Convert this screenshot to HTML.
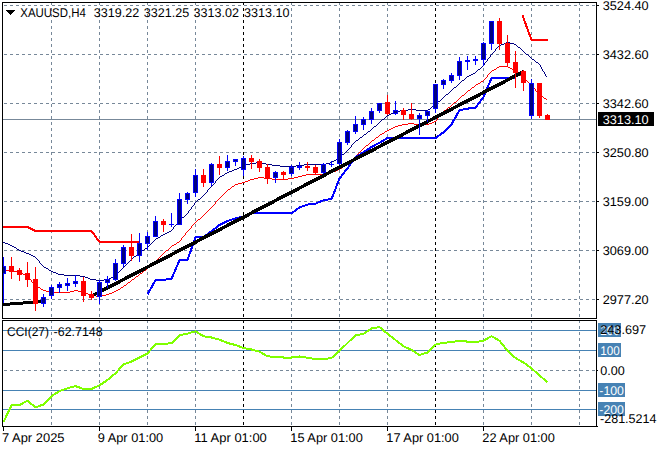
<!DOCTYPE html>
<html><head><meta charset="utf-8"><title>XAUUSD,H4</title>
<style>
html,body{margin:0;padding:0;background:#fff;width:660px;height:450px;overflow:hidden}
svg text{font-family:"Liberation Sans",sans-serif;}
</style></head><body>
<svg width="660" height="450" viewBox="0 0 660 450" shape-rendering="crispEdges" style="position:absolute;left:0;top:0">
<rect x="0" y="0" width="660" height="450" fill="#fff"/>
<line x1="4" y1="5.5" x2="596" y2="5.5" stroke="#778899" stroke-width="1" stroke-dasharray="3 3"/>
<line x1="4" y1="54.5" x2="596" y2="54.5" stroke="#778899" stroke-width="1" stroke-dasharray="3 3"/>
<line x1="4" y1="103.5" x2="596" y2="103.5" stroke="#778899" stroke-width="1" stroke-dasharray="3 3"/>
<line x1="4" y1="152.5" x2="596" y2="152.5" stroke="#778899" stroke-width="1" stroke-dasharray="3 3"/>
<line x1="4" y1="201.5" x2="596" y2="201.5" stroke="#778899" stroke-width="1" stroke-dasharray="3 3"/>
<line x1="4" y1="250.5" x2="596" y2="250.5" stroke="#778899" stroke-width="1" stroke-dasharray="3 3"/>
<line x1="4" y1="299.5" x2="596" y2="299.5" stroke="#778899" stroke-width="1" stroke-dasharray="3 3"/>
<line x1="4" y1="370.5" x2="596" y2="370.5" stroke="#778899" stroke-width="1" stroke-dasharray="3 3"/>
<line x1="51.5" y1="2" x2="51.5" y2="318" stroke="#778899" stroke-width="1" stroke-dasharray="3 3"/>
<line x1="51.5" y1="320" x2="51.5" y2="426" stroke="#778899" stroke-width="1" stroke-dasharray="3 3"/>
<line x1="99.5" y1="2" x2="99.5" y2="318" stroke="#778899" stroke-width="1" stroke-dasharray="3 3"/>
<line x1="99.5" y1="320" x2="99.5" y2="426" stroke="#778899" stroke-width="1" stroke-dasharray="3 3"/>
<line x1="147.5" y1="2" x2="147.5" y2="318" stroke="#778899" stroke-width="1" stroke-dasharray="3 3"/>
<line x1="147.5" y1="320" x2="147.5" y2="426" stroke="#778899" stroke-width="1" stroke-dasharray="3 3"/>
<line x1="195.5" y1="2" x2="195.5" y2="318" stroke="#778899" stroke-width="1" stroke-dasharray="3 3"/>
<line x1="195.5" y1="320" x2="195.5" y2="426" stroke="#778899" stroke-width="1" stroke-dasharray="3 3"/>
<line x1="243.5" y1="2" x2="243.5" y2="318" stroke="#000" stroke-width="1" stroke-dasharray="3 3"/>
<line x1="243.5" y1="320" x2="243.5" y2="426" stroke="#000" stroke-width="1" stroke-dasharray="3 3"/>
<line x1="291.5" y1="2" x2="291.5" y2="318" stroke="#778899" stroke-width="1" stroke-dasharray="3 3"/>
<line x1="291.5" y1="320" x2="291.5" y2="426" stroke="#778899" stroke-width="1" stroke-dasharray="3 3"/>
<line x1="339.5" y1="2" x2="339.5" y2="318" stroke="#778899" stroke-width="1" stroke-dasharray="3 3"/>
<line x1="339.5" y1="320" x2="339.5" y2="426" stroke="#778899" stroke-width="1" stroke-dasharray="3 3"/>
<line x1="387.5" y1="2" x2="387.5" y2="318" stroke="#778899" stroke-width="1" stroke-dasharray="3 3"/>
<line x1="387.5" y1="320" x2="387.5" y2="426" stroke="#778899" stroke-width="1" stroke-dasharray="3 3"/>
<line x1="435.5" y1="2" x2="435.5" y2="318" stroke="#000" stroke-width="1" stroke-dasharray="3 3"/>
<line x1="435.5" y1="320" x2="435.5" y2="426" stroke="#000" stroke-width="1" stroke-dasharray="3 3"/>
<line x1="483.5" y1="2" x2="483.5" y2="318" stroke="#778899" stroke-width="1" stroke-dasharray="3 3"/>
<line x1="483.5" y1="320" x2="483.5" y2="426" stroke="#778899" stroke-width="1" stroke-dasharray="3 3"/>
<line x1="531.5" y1="2" x2="531.5" y2="318" stroke="#778899" stroke-width="1" stroke-dasharray="3 3"/>
<line x1="531.5" y1="320" x2="531.5" y2="426" stroke="#778899" stroke-width="1" stroke-dasharray="3 3"/>
<line x1="579.5" y1="2" x2="579.5" y2="318" stroke="#778899" stroke-width="1" stroke-dasharray="3 3"/>
<line x1="579.5" y1="320" x2="579.5" y2="426" stroke="#778899" stroke-width="1" stroke-dasharray="3 3"/>
<rect x="3" y="330" width="593" height="1" fill="#4682B4"/>
<rect x="3" y="350" width="593" height="1" fill="#4682B4"/>
<rect x="3" y="390" width="593" height="1" fill="#4682B4"/>
<rect x="3" y="409" width="593" height="1" fill="#4682B4"/>
<rect x="3" y="119" width="593" height="1" fill="#778899"/>
<path d="M506 42h4v1h-4zM504 43h2v1h-2zM510 43h4v1h-4zM501 44h3v1h-3zM514 44h2v1h-2zM499 45h2v1h-2zM516 45h1v1h-1zM498 46h1v1h-1zM517 46h1v1h-1zM497 47h1v1h-1zM518 47h2v1h-2zM496 48h1v1h-1zM520 48h1v1h-1zM495 49h1v1h-1zM521 49h1v1h-1zM495 50h1v1h-1zM522 50h1v1h-1zM494 51h1v1h-1zM523 51h1v1h-1zM493 52h1v1h-1zM524 52h1v1h-1zM492 53h1v1h-1zM525 53h1v1h-1zM491 54h1v1h-1zM526 54h2v1h-2zM490 55h1v1h-1zM528 55h1v1h-1zM490 56h1v1h-1zM529 56h1v1h-1zM489 57h1v1h-1zM530 57h1v1h-1zM488 58h1v1h-1zM531 58h1v1h-1zM487 59h1v1h-1zM532 59h2v1h-2zM487 60h1v1h-1zM534 60h1v1h-1zM486 61h1v1h-1zM535 61h1v1h-1zM485 62h1v1h-1zM536 62h2v1h-2zM484 63h1v1h-1zM538 63h1v1h-1zM484 64h1v1h-1zM539 64h1v1h-1zM483 65h1v1h-1zM540 65h1v1h-1zM482 66h1v1h-1zM540 66h1v1h-1zM481 67h1v1h-1zM541 67h1v1h-1zM480 68h1v1h-1zM541 68h1v1h-1zM478 69h2v1h-2zM542 69h1v1h-1zM477 70h1v1h-1zM542 70h1v1h-1zM476 71h1v1h-1zM543 71h1v1h-1zM475 72h1v1h-1zM544 72h1v1h-1zM473 73h2v1h-2zM544 73h1v1h-1zM471 74h2v1h-2zM545 74h1v1h-1zM469 75h2v1h-2zM545 75h1v1h-1zM467 76h2v1h-2zM546 76h1v1h-1zM466 77h1v1h-1zM465 78h1v1h-1zM464 79h1v1h-1zM462 80h2v1h-2zM461 81h1v1h-1zM460 82h1v1h-1zM459 83h1v1h-1zM458 84h1v1h-1zM457 85h1v1h-1zM456 86h1v1h-1zM454 87h2v1h-2zM453 88h1v1h-1zM452 89h1v1h-1zM451 90h1v1h-1zM450 91h1v1h-1zM449 92h1v1h-1zM448 93h1v1h-1zM446 94h2v1h-2zM445 95h1v1h-1zM444 96h1v1h-1zM443 97h1v1h-1zM442 98h1v1h-1zM441 99h1v1h-1zM440 100h1v1h-1zM438 101h2v1h-2zM437 102h1v1h-1zM436 103h1v1h-1zM435 104h1v1h-1zM434 105h1v1h-1zM432 106h2v1h-2zM431 107h1v1h-1zM430 108h1v1h-1zM408 109h8v1h-8zM428 109h2v1h-2zM400 110h8v1h-8zM416 110h12v1h-12zM395 111h5v1h-5zM393 112h2v1h-2zM391 113h2v1h-2zM389 114h2v1h-2zM387 115h2v1h-2zM386 116h1v1h-1zM385 117h1v1h-1zM384 118h1v1h-1zM382 119h2v1h-2zM381 120h1v1h-1zM380 121h1v1h-1zM379 122h1v1h-1zM378 123h1v1h-1zM377 124h1v1h-1zM376 125h1v1h-1zM374 126h2v1h-2zM373 127h1v1h-1zM372 128h1v1h-1zM371 129h1v1h-1zM370 130h1v1h-1zM368 131h2v1h-2zM367 132h1v1h-1zM366 133h1v1h-1zM364 134h2v1h-2zM363 135h1v1h-1zM362 136h1v1h-1zM360 137h2v1h-2zM359 138h1v1h-1zM358 139h1v1h-1zM356 140h2v1h-2zM355 141h1v1h-1zM354 142h1v1h-1zM353 143h1v1h-1zM352 144h1v1h-1zM351 145h1v1h-1zM351 146h1v1h-1zM350 147h1v1h-1zM349 148h1v1h-1zM348 149h1v1h-1zM347 150h1v1h-1zM346 151h1v1h-1zM345 152h1v1h-1zM344 153h1v1h-1zM342 154h2v1h-2zM341 155h1v1h-1zM340 156h1v1h-1zM339 157h1v1h-1zM337 158h2v1h-2zM336 159h1v1h-1zM334 160h2v1h-2zM332 161h2v1h-2zM256 162h6v1h-6zM330 162h2v1h-2zM250 163h6v1h-6zM262 163h4v1h-4zM326 163h4v1h-4zM246 164h4v1h-4zM266 164h6v1h-6zM304 164h22v1h-22zM243 165h3v1h-3zM272 165h8v1h-8zM296 165h8v1h-8zM241 166h2v1h-2zM280 166h16v1h-16zM239 167h2v1h-2zM237 168h2v1h-2zM234 169h3v1h-3zM232 170h2v1h-2zM229 171h3v1h-3zM227 172h2v1h-2zM225 173h2v1h-2zM224 174h1v1h-1zM222 175h2v1h-2zM220 176h2v1h-2zM219 177h1v1h-1zM218 178h1v1h-1zM217 179h1v1h-1zM216 180h1v1h-1zM215 181h1v1h-1zM215 182h1v1h-1zM214 183h1v1h-1zM213 184h1v1h-1zM212 185h1v1h-1zM211 186h1v1h-1zM210 187h1v1h-1zM209 188h1v1h-1zM208 189h1v1h-1zM207 190h1v1h-1zM207 191h1v1h-1zM206 192h1v1h-1zM205 193h1v1h-1zM204 194h1v1h-1zM203 195h1v1h-1zM202 196h1v1h-1zM201 197h1v1h-1zM200 198h1v1h-1zM198 199h2v1h-2zM197 200h1v1h-1zM196 201h1v1h-1zM195 202h1v1h-1zM194 203h1v1h-1zM194 204h1v1h-1zM193 205h1v1h-1zM192 206h1v1h-1zM191 207h1v1h-1zM191 208h1v1h-1zM190 209h1v1h-1zM189 210h1v1h-1zM188 211h1v1h-1zM188 212h1v1h-1zM187 213h1v1h-1zM186 214h1v1h-1zM185 215h1v1h-1zM184 216h1v1h-1zM182 217h2v1h-2zM181 218h1v1h-1zM180 219h1v1h-1zM179 220h1v1h-1zM178 221h1v1h-1zM177 222h1v1h-1zM177 223h1v1h-1zM176 224h1v1h-1zM175 225h1v1h-1zM174 226h1v1h-1zM173 227h1v1h-1zM173 228h1v1h-1zM172 229h1v1h-1zM171 230h1v1h-1zM169 231h2v1h-2zM167 232h2v1h-2zM165 233h2v1h-2zM163 234h2v1h-2zM161 235h2v1h-2zM160 236h1v1h-1zM158 237h2v1h-2zM156 238h2v1h-2zM155 239h1v1h-1zM154 240h1v1h-1zM153 241h1v1h-1zM3 242h2v1h-2zM152 242h1v1h-1zM5 243h3v1h-3zM151 243h1v1h-1zM8 244h2v1h-2zM150 244h1v1h-1zM10 245h2v1h-2zM149 245h1v1h-1zM12 246h2v1h-2zM148 246h1v1h-1zM14 247h2v1h-2zM147 247h1v1h-1zM16 248h1v1h-1zM145 248h2v1h-2zM17 249h2v1h-2zM144 249h1v1h-1zM19 250h2v1h-2zM142 250h2v1h-2zM21 251h3v1h-3zM140 251h2v1h-2zM24 252h2v1h-2zM139 252h1v1h-1zM26 253h3v1h-3zM138 253h1v1h-1zM29 254h2v1h-2zM137 254h1v1h-1zM31 255h2v1h-2zM136 255h1v1h-1zM33 256h2v1h-2zM134 256h2v1h-2zM35 257h1v1h-1zM133 257h1v1h-1zM36 258h1v1h-1zM132 258h1v1h-1zM37 259h1v1h-1zM131 259h1v1h-1zM38 260h1v1h-1zM130 260h1v1h-1zM39 261h1v1h-1zM129 261h1v1h-1zM39 262h1v1h-1zM128 262h1v1h-1zM40 263h1v1h-1zM127 263h1v1h-1zM41 264h1v1h-1zM126 264h1v1h-1zM42 265h1v1h-1zM125 265h1v1h-1zM43 266h1v1h-1zM124 266h1v1h-1zM44 267h2v1h-2zM123 267h1v1h-1zM46 268h2v1h-2zM122 268h1v1h-1zM48 269h1v1h-1zM121 269h1v1h-1zM49 270h2v1h-2zM120 270h1v1h-1zM51 271h2v1h-2zM119 271h1v1h-1zM53 272h3v1h-3zM118 272h1v1h-1zM56 273h2v1h-2zM117 273h1v1h-1zM58 274h6v1h-6zM116 274h1v1h-1zM64 275h16v1h-16zM115 275h1v1h-1zM80 276h5v1h-5zM113 276h2v1h-2zM85 277h3v1h-3zM111 277h2v1h-2zM88 278h2v1h-2zM109 278h2v1h-2zM90 279h6v1h-6zM104 279h5v1h-5zM96 280h8v1h-8z" fill="#000080"/>
<path d="M499 66h9v1h-9zM497 67h2v1h-2zM508 67h2v1h-2zM496 68h1v1h-1zM510 68h2v1h-2zM494 69h2v1h-2zM512 69h1v1h-1zM492 70h2v1h-2zM513 70h2v1h-2zM491 71h1v1h-1zM515 71h1v1h-1zM490 72h1v1h-1zM516 72h2v1h-2zM489 73h1v1h-1zM518 73h1v1h-1zM488 74h1v1h-1zM519 74h1v1h-1zM487 75h1v1h-1zM520 75h2v1h-2zM487 76h1v1h-1zM522 76h1v1h-1zM486 77h1v1h-1zM523 77h1v1h-1zM485 78h1v1h-1zM524 78h1v1h-1zM484 79h1v1h-1zM525 79h1v1h-1zM483 80h1v1h-1zM526 80h1v1h-1zM481 81h2v1h-2zM527 81h1v1h-1zM480 82h1v1h-1zM528 82h1v1h-1zM478 83h2v1h-2zM529 83h1v1h-1zM476 84h2v1h-2zM530 84h1v1h-1zM475 85h1v1h-1zM531 85h1v1h-1zM474 86h1v1h-1zM532 86h1v1h-1zM472 87h2v1h-2zM533 87h1v1h-1zM471 88h1v1h-1zM534 88h1v1h-1zM470 89h1v1h-1zM535 89h1v1h-1zM468 90h2v1h-2zM535 90h1v1h-1zM467 91h1v1h-1zM536 91h1v1h-1zM466 92h1v1h-1zM537 92h1v1h-1zM465 93h1v1h-1zM538 93h1v1h-1zM464 94h1v1h-1zM539 94h1v1h-1zM462 95h2v1h-2zM540 95h2v1h-2zM461 96h1v1h-1zM542 96h1v1h-1zM460 97h1v1h-1zM543 97h1v1h-1zM459 98h1v1h-1zM544 98h2v1h-2zM458 99h1v1h-1zM546 99h1v1h-1zM457 100h1v1h-1zM456 101h1v1h-1zM454 102h2v1h-2zM453 103h1v1h-1zM452 104h1v1h-1zM451 105h1v1h-1zM450 106h1v1h-1zM448 107h2v1h-2zM447 108h1v1h-1zM446 109h1v1h-1zM444 110h2v1h-2zM443 111h1v1h-1zM442 112h1v1h-1zM441 113h1v1h-1zM441 114h1v1h-1zM440 115h1v1h-1zM439 116h1v1h-1zM438 117h1v1h-1zM437 118h1v1h-1zM437 119h1v1h-1zM436 120h1v1h-1zM434 121h2v1h-2zM432 122h2v1h-2zM408 123h6v1h-6zM429 123h3v1h-3zM402 124h6v1h-6zM414 124h4v1h-4zM424 124h5v1h-5zM398 125h4v1h-4zM418 125h6v1h-6zM395 126h3v1h-3zM393 127h2v1h-2zM391 128h2v1h-2zM389 129h2v1h-2zM387 130h2v1h-2zM385 131h2v1h-2zM384 132h1v1h-1zM382 133h2v1h-2zM380 134h2v1h-2zM379 135h1v1h-1zM378 136h1v1h-1zM376 137h2v1h-2zM375 138h1v1h-1zM374 139h1v1h-1zM372 140h2v1h-2zM371 141h1v1h-1zM370 142h1v1h-1zM369 143h1v1h-1zM368 144h1v1h-1zM366 145h2v1h-2zM365 146h1v1h-1zM364 147h1v1h-1zM363 148h1v1h-1zM362 149h1v1h-1zM361 150h1v1h-1zM360 151h1v1h-1zM359 152h1v1h-1zM358 153h1v1h-1zM357 154h1v1h-1zM356 155h1v1h-1zM355 156h1v1h-1zM354 157h1v1h-1zM353 158h1v1h-1zM352 159h1v1h-1zM350 160h2v1h-2zM349 161h1v1h-1zM348 162h1v1h-1zM347 163h1v1h-1zM346 164h1v1h-1zM344 165h2v1h-2zM343 166h1v1h-1zM342 167h1v1h-1zM340 168h2v1h-2zM338 169h2v1h-2zM336 170h2v1h-2zM333 171h3v1h-3zM330 172h3v1h-3zM326 173h4v1h-4zM306 174h20v1h-20zM302 175h4v1h-4zM298 176h4v1h-4zM258 177h6v1h-6zM294 177h4v1h-4zM254 178h4v1h-4zM264 178h8v1h-8zM288 178h6v1h-6zM250 179h4v1h-4zM272 179h16v1h-16zM248 180h2v1h-2zM245 181h3v1h-3zM242 182h3v1h-3zM238 183h4v1h-4zM235 184h3v1h-3zM234 185h1v1h-1zM232 186h2v1h-2zM231 187h1v1h-1zM230 188h1v1h-1zM228 189h2v1h-2zM227 190h1v1h-1zM226 191h1v1h-1zM225 192h1v1h-1zM224 193h1v1h-1zM223 194h1v1h-1zM222 195h1v1h-1zM221 196h1v1h-1zM220 197h1v1h-1zM219 198h1v1h-1zM218 199h1v1h-1zM217 200h1v1h-1zM216 201h1v1h-1zM215 202h1v1h-1zM215 203h1v1h-1zM214 204h1v1h-1zM213 205h1v1h-1zM212 206h1v1h-1zM211 207h1v1h-1zM210 208h1v1h-1zM209 209h1v1h-1zM208 210h1v1h-1zM207 211h1v1h-1zM206 212h1v1h-1zM205 213h1v1h-1zM204 214h1v1h-1zM203 215h1v1h-1zM202 216h1v1h-1zM201 217h1v1h-1zM200 218h1v1h-1zM198 219h2v1h-2zM197 220h1v1h-1zM196 221h1v1h-1zM195 222h1v1h-1zM194 223h1v1h-1zM193 224h1v1h-1zM192 225h1v1h-1zM191 226h1v1h-1zM191 227h1v1h-1zM190 228h1v1h-1zM189 229h1v1h-1zM188 230h1v1h-1zM187 231h1v1h-1zM186 232h1v1h-1zM185 233h1v1h-1zM185 234h1v1h-1zM184 235h1v1h-1zM183 236h1v1h-1zM182 237h1v1h-1zM181 238h1v1h-1zM181 239h1v1h-1zM180 240h1v1h-1zM179 241h1v1h-1zM177 242h2v1h-2zM176 243h1v1h-1zM174 244h2v1h-2zM172 245h2v1h-2zM171 246h1v1h-1zM170 247h1v1h-1zM169 248h1v1h-1zM168 249h1v1h-1zM166 250h2v1h-2zM165 251h1v1h-1zM164 252h1v1h-1zM163 253h1v1h-1zM162 254h1v1h-1zM161 255h1v1h-1zM160 256h1v1h-1zM159 257h1v1h-1zM158 258h1v1h-1zM157 259h1v1h-1zM156 260h1v1h-1zM155 261h1v1h-1zM154 262h1v1h-1zM153 263h1v1h-1zM152 264h1v1h-1zM150 265h2v1h-2zM149 266h1v1h-1zM148 267h1v1h-1zM147 268h1v1h-1zM146 269h1v1h-1zM3 270h11v1h-11zM144 270h2v1h-2zM14 271h4v1h-4zM143 271h1v1h-1zM18 272h3v1h-3zM142 272h1v1h-1zM21 273h2v1h-2zM140 273h2v1h-2zM23 274h2v1h-2zM139 274h1v1h-1zM25 275h2v1h-2zM138 275h1v1h-1zM27 276h1v1h-1zM136 276h2v1h-2zM28 277h1v1h-1zM135 277h1v1h-1zM29 278h1v1h-1zM134 278h1v1h-1zM30 279h1v1h-1zM132 279h2v1h-2zM31 280h1v1h-1zM131 280h1v1h-1zM31 281h1v1h-1zM130 281h1v1h-1zM32 282h1v1h-1zM128 282h2v1h-2zM33 283h1v1h-1zM127 283h1v1h-1zM34 284h1v1h-1zM126 284h1v1h-1zM35 285h1v1h-1zM124 285h2v1h-2zM36 286h2v1h-2zM123 286h1v1h-1zM38 287h2v1h-2zM121 287h2v1h-2zM40 288h1v1h-1zM120 288h1v1h-1zM41 289h2v1h-2zM118 289h2v1h-2zM43 290h3v1h-3zM74 290h4v1h-4zM116 290h2v1h-2zM46 291h4v1h-4zM70 291h4v1h-4zM78 291h4v1h-4zM114 291h2v1h-2zM50 292h20v1h-20zM82 292h3v1h-3zM112 292h2v1h-2zM85 293h3v1h-3zM109 293h3v1h-3zM88 294h2v1h-2zM106 294h3v1h-3zM90 295h6v1h-6zM102 295h4v1h-4zM96 296h6v1h-6z" fill="#ff0000"/>
<polyline points="3.0,227.00 27.5,227.00 35.5,231.00 91.5,231.00 99.5,242.00 139.5,242.00" fill="none" stroke="#ff0000" stroke-width="2" stroke-linejoin="miter"/>
<polyline points="522.5,15.50 531.5,40.00 547.5,40.00" fill="none" stroke="#ff0000" stroke-width="2" stroke-linejoin="miter"/>
<polyline points="147.5,294.30 155.5,280.30 163.5,279.80 171.5,279.00 179.5,260.30 187.5,259.80 195.5,237.30 203.5,237.00 211.5,231.10 219.5,225.00 227.5,221.10 235.5,218.30 243.5,216.30 251.5,213.30 259.5,213.30 267.5,213.30 275.5,213.30 283.5,213.30 291.5,213.30 299.5,207.30 307.5,204.60 315.5,203.60 323.5,200.30 331.5,199.00 339.5,178.60 347.5,168.30 355.5,157.30 363.5,152.30 371.5,147.00 379.5,142.80 387.5,138.00 395.5,138.00 403.5,138.00 411.5,138.00 419.5,138.00 427.5,138.00 435.5,138.00 443.5,132.30 451.5,124.30 459.5,110.30 467.5,108.60 475.5,107.80 483.5,97.00 491.5,78.30 499.5,78.30 507.5,78.30 515.5,78.30" fill="none" stroke="#0000ff" stroke-width="2" stroke-linejoin="miter"/>
<line x1="3" y1="304.5" x2="43.5" y2="301.5" stroke="#000" stroke-width="3"/>
<line x1="91.5" y1="296.1" x2="523.5" y2="71.7" stroke="#000" stroke-width="3.5"/>
<rect x="3" y="257" width="1" height="46" fill="#0000ff"/>
<rect x="1" y="266" width="5" height="8" fill="#0000ff"/>
<rect x="2" y="267" width="3" height="6" fill="#000080"/>
<rect x="11" y="257" width="1" height="22" fill="#ff0000"/>
<rect x="9" y="266" width="5" height="6" fill="#ff0000"/>
<rect x="19" y="268" width="1" height="13" fill="#ff0000"/>
<rect x="17" y="270" width="5" height="5" fill="#ff0000"/>
<rect x="27" y="262" width="1" height="25" fill="#ff0000"/>
<rect x="25" y="273" width="5" height="7" fill="#ff0000"/>
<rect x="35" y="267" width="1" height="44" fill="#ff0000"/>
<rect x="33" y="279" width="5" height="25" fill="#ff0000"/>
<rect x="43" y="294" width="1" height="13" fill="#0000ff"/>
<rect x="41" y="297" width="5" height="7" fill="#0000ff"/>
<rect x="42" y="298" width="3" height="5" fill="#000080"/>
<rect x="51" y="285" width="1" height="14" fill="#0000ff"/>
<rect x="49" y="287" width="5" height="9" fill="#0000ff"/>
<rect x="50" y="288" width="3" height="7" fill="#000080"/>
<rect x="59" y="282" width="1" height="11" fill="#0000ff"/>
<rect x="57" y="284" width="5" height="4" fill="#0000ff"/>
<rect x="58" y="285" width="3" height="2" fill="#000080"/>
<rect x="67" y="278" width="1" height="13" fill="#0000ff"/>
<rect x="65" y="283" width="5" height="3" fill="#0000ff"/>
<rect x="66" y="284" width="3" height="1" fill="#000080"/>
<rect x="75" y="275" width="1" height="12" fill="#0000ff"/>
<rect x="73" y="281" width="5" height="3" fill="#0000ff"/>
<rect x="74" y="282" width="3" height="1" fill="#000080"/>
<rect x="83" y="277" width="1" height="25" fill="#ff0000"/>
<rect x="81" y="281" width="5" height="15" fill="#ff0000"/>
<rect x="91" y="291" width="1" height="9" fill="#ff0000"/>
<rect x="89" y="294" width="5" height="4" fill="#ff0000"/>
<rect x="99" y="280" width="1" height="24" fill="#0000ff"/>
<rect x="97" y="282" width="5" height="15" fill="#0000ff"/>
<rect x="98" y="283" width="3" height="13" fill="#000080"/>
<rect x="107" y="276" width="1" height="12" fill="#0000ff"/>
<rect x="105" y="279" width="5" height="4" fill="#0000ff"/>
<rect x="106" y="280" width="3" height="2" fill="#000080"/>
<rect x="115" y="259" width="1" height="22" fill="#0000ff"/>
<rect x="113" y="263" width="5" height="17" fill="#0000ff"/>
<rect x="114" y="264" width="3" height="15" fill="#000080"/>
<rect x="123" y="245" width="1" height="22" fill="#0000ff"/>
<rect x="121" y="247" width="5" height="17" fill="#0000ff"/>
<rect x="122" y="248" width="3" height="15" fill="#000080"/>
<rect x="131" y="234" width="1" height="27" fill="#ff0000"/>
<rect x="129" y="247" width="5" height="9" fill="#ff0000"/>
<rect x="139" y="233" width="1" height="29" fill="#0000ff"/>
<rect x="137" y="243" width="5" height="13" fill="#0000ff"/>
<rect x="138" y="244" width="3" height="11" fill="#000080"/>
<rect x="147" y="232" width="1" height="18" fill="#0000ff"/>
<rect x="145" y="236" width="5" height="8" fill="#0000ff"/>
<rect x="146" y="237" width="3" height="6" fill="#000080"/>
<rect x="155" y="216" width="1" height="21" fill="#0000ff"/>
<rect x="153" y="221" width="5" height="16" fill="#0000ff"/>
<rect x="154" y="222" width="3" height="14" fill="#000080"/>
<rect x="163" y="219" width="1" height="13" fill="#ff0000"/>
<rect x="161" y="221" width="5" height="4" fill="#ff0000"/>
<rect x="171" y="213" width="1" height="14" fill="#0000ff"/>
<rect x="169" y="224" width="5" height="1" fill="#0000ff"/>
<rect x="179" y="193" width="1" height="32" fill="#0000ff"/>
<rect x="177" y="199" width="5" height="26" fill="#0000ff"/>
<rect x="178" y="200" width="3" height="24" fill="#000080"/>
<rect x="187" y="192" width="1" height="12" fill="#0000ff"/>
<rect x="185" y="193" width="5" height="7" fill="#0000ff"/>
<rect x="186" y="194" width="3" height="5" fill="#000080"/>
<rect x="195" y="169" width="1" height="28" fill="#0000ff"/>
<rect x="193" y="175" width="5" height="18" fill="#0000ff"/>
<rect x="194" y="176" width="3" height="16" fill="#000080"/>
<rect x="203" y="169" width="1" height="18" fill="#ff0000"/>
<rect x="201" y="175" width="5" height="8" fill="#ff0000"/>
<rect x="211" y="163" width="1" height="23" fill="#0000ff"/>
<rect x="209" y="164" width="5" height="19" fill="#0000ff"/>
<rect x="210" y="165" width="3" height="17" fill="#000080"/>
<rect x="219" y="156" width="1" height="19" fill="#ff0000"/>
<rect x="217" y="164" width="5" height="4" fill="#ff0000"/>
<rect x="227" y="155" width="1" height="16" fill="#0000ff"/>
<rect x="225" y="161" width="5" height="7" fill="#0000ff"/>
<rect x="226" y="162" width="3" height="5" fill="#000080"/>
<rect x="235" y="159" width="1" height="7" fill="#0000ff"/>
<rect x="233" y="159" width="5" height="3" fill="#0000ff"/>
<rect x="234" y="160" width="3" height="1" fill="#000080"/>
<rect x="243" y="156" width="1" height="20" fill="#0000ff"/>
<rect x="241" y="158" width="5" height="12" fill="#0000ff"/>
<rect x="242" y="159" width="3" height="10" fill="#000080"/>
<rect x="251" y="155" width="1" height="14" fill="#ff0000"/>
<rect x="249" y="158" width="5" height="4" fill="#ff0000"/>
<rect x="259" y="159" width="1" height="13" fill="#ff0000"/>
<rect x="257" y="161" width="5" height="7" fill="#ff0000"/>
<rect x="267" y="164" width="1" height="20" fill="#ff0000"/>
<rect x="265" y="167" width="5" height="12" fill="#ff0000"/>
<rect x="275" y="171" width="1" height="12" fill="#0000ff"/>
<rect x="273" y="172" width="5" height="6" fill="#0000ff"/>
<rect x="274" y="173" width="3" height="4" fill="#000080"/>
<rect x="283" y="171" width="1" height="9" fill="#ff0000"/>
<rect x="281" y="172" width="5" height="3" fill="#ff0000"/>
<rect x="291" y="165" width="1" height="11" fill="#0000ff"/>
<rect x="289" y="167" width="5" height="7" fill="#0000ff"/>
<rect x="290" y="168" width="3" height="5" fill="#000080"/>
<rect x="299" y="162" width="1" height="8" fill="#0000ff"/>
<rect x="297" y="166" width="5" height="2" fill="#0000ff"/>
<rect x="307" y="162" width="1" height="9" fill="#ff0000"/>
<rect x="305" y="166" width="5" height="2" fill="#ff0000"/>
<rect x="315" y="165" width="1" height="10" fill="#ff0000"/>
<rect x="313" y="167" width="5" height="6" fill="#ff0000"/>
<rect x="323" y="163" width="1" height="11" fill="#0000ff"/>
<rect x="321" y="164" width="5" height="9" fill="#0000ff"/>
<rect x="322" y="165" width="3" height="7" fill="#000080"/>
<rect x="331" y="161" width="1" height="6" fill="#0000ff"/>
<rect x="329" y="164" width="5" height="1" fill="#0000ff"/>
<rect x="339" y="139" width="1" height="26" fill="#0000ff"/>
<rect x="337" y="142" width="5" height="22" fill="#0000ff"/>
<rect x="338" y="143" width="3" height="20" fill="#000080"/>
<rect x="347" y="130" width="1" height="15" fill="#0000ff"/>
<rect x="345" y="131" width="5" height="12" fill="#0000ff"/>
<rect x="346" y="132" width="3" height="10" fill="#000080"/>
<rect x="355" y="116" width="1" height="18" fill="#0000ff"/>
<rect x="353" y="124" width="5" height="8" fill="#0000ff"/>
<rect x="354" y="125" width="3" height="6" fill="#000080"/>
<rect x="363" y="117" width="1" height="13" fill="#0000ff"/>
<rect x="361" y="119" width="5" height="6" fill="#0000ff"/>
<rect x="362" y="120" width="3" height="4" fill="#000080"/>
<rect x="371" y="108" width="1" height="16" fill="#0000ff"/>
<rect x="369" y="111" width="5" height="9" fill="#0000ff"/>
<rect x="370" y="112" width="3" height="7" fill="#000080"/>
<rect x="379" y="103" width="1" height="10" fill="#0000ff"/>
<rect x="377" y="103" width="5" height="8" fill="#0000ff"/>
<rect x="378" y="104" width="3" height="6" fill="#000080"/>
<rect x="387" y="95" width="1" height="20" fill="#ff0000"/>
<rect x="385" y="102" width="5" height="12" fill="#ff0000"/>
<rect x="395" y="101" width="1" height="14" fill="#0000ff"/>
<rect x="393" y="110" width="5" height="4" fill="#0000ff"/>
<rect x="394" y="111" width="3" height="2" fill="#000080"/>
<rect x="403" y="108" width="1" height="12" fill="#ff0000"/>
<rect x="401" y="110" width="5" height="5" fill="#ff0000"/>
<rect x="411" y="103" width="1" height="17" fill="#ff0000"/>
<rect x="409" y="114" width="5" height="5" fill="#ff0000"/>
<rect x="419" y="113" width="1" height="22" fill="#0000ff"/>
<rect x="417" y="115" width="5" height="4" fill="#0000ff"/>
<rect x="418" y="116" width="3" height="2" fill="#000080"/>
<rect x="427" y="110" width="1" height="12" fill="#0000ff"/>
<rect x="425" y="111" width="5" height="5" fill="#0000ff"/>
<rect x="426" y="112" width="3" height="3" fill="#000080"/>
<rect x="435" y="84" width="1" height="29" fill="#0000ff"/>
<rect x="433" y="84" width="5" height="25" fill="#0000ff"/>
<rect x="434" y="85" width="3" height="23" fill="#000080"/>
<rect x="443" y="79" width="1" height="10" fill="#0000ff"/>
<rect x="441" y="80" width="5" height="5" fill="#0000ff"/>
<rect x="442" y="81" width="3" height="3" fill="#000080"/>
<rect x="451" y="73" width="1" height="10" fill="#0000ff"/>
<rect x="449" y="75" width="5" height="6" fill="#0000ff"/>
<rect x="450" y="76" width="3" height="4" fill="#000080"/>
<rect x="459" y="57" width="1" height="23" fill="#0000ff"/>
<rect x="457" y="61" width="5" height="15" fill="#0000ff"/>
<rect x="458" y="62" width="3" height="13" fill="#000080"/>
<rect x="467" y="56" width="1" height="14" fill="#0000ff"/>
<rect x="465" y="60" width="5" height="2" fill="#0000ff"/>
<rect x="475" y="56" width="1" height="9" fill="#0000ff"/>
<rect x="473" y="59" width="5" height="2" fill="#0000ff"/>
<rect x="483" y="42" width="1" height="24" fill="#0000ff"/>
<rect x="481" y="43" width="5" height="17" fill="#0000ff"/>
<rect x="482" y="44" width="3" height="15" fill="#000080"/>
<rect x="491" y="21" width="1" height="29" fill="#0000ff"/>
<rect x="489" y="21" width="5" height="23" fill="#0000ff"/>
<rect x="490" y="22" width="3" height="21" fill="#000080"/>
<rect x="499" y="18" width="1" height="32" fill="#ff0000"/>
<rect x="497" y="21" width="5" height="23" fill="#ff0000"/>
<rect x="507" y="35" width="1" height="32" fill="#ff0000"/>
<rect x="505" y="43" width="5" height="20" fill="#ff0000"/>
<rect x="515" y="51" width="1" height="37" fill="#ff0000"/>
<rect x="513" y="62" width="5" height="11" fill="#ff0000"/>
<rect x="523" y="70" width="1" height="21" fill="#ff0000"/>
<rect x="521" y="71" width="5" height="12" fill="#ff0000"/>
<rect x="531" y="79" width="1" height="40" fill="#0000ff"/>
<rect x="529" y="83" width="5" height="33" fill="#0000ff"/>
<rect x="530" y="84" width="3" height="31" fill="#000080"/>
<rect x="539" y="83" width="1" height="35" fill="#ff0000"/>
<rect x="537" y="83" width="5" height="33" fill="#ff0000"/>
<rect x="547" y="114" width="1" height="6" fill="#ff0000"/>
<rect x="545" y="115" width="5" height="5" fill="#ff0000"/>
<polyline points="3.5,422.00 11.5,405.30 19.5,405.00 27.5,400.80 35.5,407.30 43.5,404.50 51.5,396.10 59.5,391.10 67.5,388.30 75.5,386.10 83.5,389.00 91.5,389.00 99.5,385.30 107.5,380.00 115.5,373.30 123.5,364.30 131.5,361.60 139.5,357.60 147.5,353.50 155.5,344.10 163.5,344.10 171.5,343.10 179.5,335.30 187.5,333.60 195.5,331.30 203.5,336.30 211.5,337.50 219.5,339.60 227.5,343.00 235.5,345.00 243.5,348.00 251.5,349.50 259.5,351.60 267.5,356.30 275.5,357.00 283.5,357.50 291.5,357.50 299.5,356.50 307.5,357.80 315.5,359.10 323.5,359.10 331.5,358.00 339.5,350.80 347.5,343.00 355.5,335.30 363.5,333.80 371.5,328.50 379.5,327.00 387.5,333.80 395.5,340.00 403.5,346.30 411.5,349.80 419.5,355.00 427.5,352.50 435.5,344.60 443.5,342.80 451.5,342.10 459.5,340.80 467.5,341.60 475.5,342.00 483.5,340.80 491.5,336.10 499.5,340.80 507.5,350.80 515.5,358.00 523.5,362.50 531.5,368.30 539.5,375.50 547.5,382.10" fill="none" stroke="#7fff00" stroke-width="2" stroke-linejoin="miter"/>
<rect x="0" y="0" width="2" height="450" fill="#fff"/>
<rect x="2.5" y="2.5" width="594" height="316" fill="none" stroke="#000" stroke-width="1"/>
<rect x="2.5" y="320.5" width="594" height="106" fill="none" stroke="#000" stroke-width="1"/>
<rect x="597" y="5" width="2" height="1" fill="#000"/>
<rect x="597" y="54" width="2" height="1" fill="#000"/>
<rect x="597" y="103" width="2" height="1" fill="#000"/>
<rect x="597" y="152" width="2" height="1" fill="#000"/>
<rect x="597" y="201" width="2" height="1" fill="#000"/>
<rect x="597" y="250" width="2" height="1" fill="#000"/>
<rect x="597" y="299" width="2" height="1" fill="#000"/>
<rect x="597" y="370" width="1" height="1" fill="#000"/>
<rect x="597" y="426" width="1" height="1" fill="#000"/>
<rect x="3" y="427" width="1" height="4" fill="#000"/>
<rect x="99" y="427" width="1" height="4" fill="#000"/>
<rect x="195" y="427" width="1" height="4" fill="#000"/>
<rect x="291" y="427" width="1" height="4" fill="#000"/>
<rect x="387" y="427" width="1" height="4" fill="#000"/>
<rect x="483" y="427" width="1" height="4" fill="#000"/>
<rect x="598" y="323" width="23" height="14" fill="#4682B4"/>
<rect x="598" y="343" width="23" height="14" fill="#4682B4"/>
<rect x="598" y="383" width="27" height="14" fill="#4682B4"/>
<rect x="598" y="402" width="27" height="14" fill="#4682B4"/>
<rect x="598" y="112" width="56" height="14" fill="#000"/>
<polygon points="6,10 15,10 10.5,15" fill="#000" shape-rendering="crispEdges"/>
</svg>
<svg width="660" height="450" viewBox="0 0 660 450" style="position:absolute;left:0;top:0" text-rendering="geometricPrecision">
<text x="20.3" y="17" fill="#000" font-size="12.6" textLength="65.5" lengthAdjust="spacingAndGlyphs">XAUUSD,H4</text>
<text x="93.8" y="17" fill="#000" font-size="12.6" textLength="45.5" lengthAdjust="spacingAndGlyphs">3319.22</text>
<text x="143.8" y="17" fill="#000" font-size="12.6" textLength="45.5" lengthAdjust="spacingAndGlyphs">3321.25</text>
<text x="193.5" y="17" fill="#000" font-size="12.6" textLength="45.5" lengthAdjust="spacingAndGlyphs">3313.02</text>
<text x="244" y="17" fill="#000" font-size="12.6" textLength="45.5" lengthAdjust="spacingAndGlyphs">3313.10</text>
<text x="602.7" y="10" fill="#000" font-size="12.6" textLength="46" lengthAdjust="spacingAndGlyphs">3524.40</text>
<text x="602.7" y="59" fill="#000" font-size="12.6" textLength="46" lengthAdjust="spacingAndGlyphs">3432.60</text>
<text x="602.7" y="108" fill="#000" font-size="12.6" textLength="46" lengthAdjust="spacingAndGlyphs">3342.60</text>
<text x="602.7" y="157" fill="#000" font-size="12.6" textLength="46" lengthAdjust="spacingAndGlyphs">3250.80</text>
<text x="602.7" y="206" fill="#000" font-size="12.6" textLength="46" lengthAdjust="spacingAndGlyphs">3159.00</text>
<text x="602.7" y="255" fill="#000" font-size="12.6" textLength="46" lengthAdjust="spacingAndGlyphs">3069.00</text>
<text x="602.7" y="304" fill="#000" font-size="12.6" textLength="46" lengthAdjust="spacingAndGlyphs">2977.20</text>
<text x="602.7" y="124" fill="#fff" font-size="12.6" textLength="46" lengthAdjust="spacingAndGlyphs">3313.10</text>
<text x="600.2" y="335" fill="#fff" font-size="12.6" textLength="19.5" lengthAdjust="spacingAndGlyphs">200</text>
<text x="600.2" y="334" fill="#000" font-size="12.6" textLength="46" lengthAdjust="spacingAndGlyphs">243.697</text>
<text x="600.2" y="355" fill="#fff" font-size="12.6" textLength="19.5" lengthAdjust="spacingAndGlyphs">100</text>
<text x="600.2" y="375" fill="#000" font-size="12.6" textLength="24.5" lengthAdjust="spacingAndGlyphs">0.00</text>
<text x="599.3" y="395" fill="#fff" font-size="12.6" textLength="24.6" lengthAdjust="spacingAndGlyphs">-100</text>
<text x="599.3" y="414" fill="#fff" font-size="12.6" textLength="24.6" lengthAdjust="spacingAndGlyphs">-200</text>
<text x="600" y="423" fill="#000" font-size="12.6" textLength="56.5" lengthAdjust="spacingAndGlyphs">-281.5214</text>
<text x="7" y="336" fill="#000" font-size="12.6" textLength="42" lengthAdjust="spacingAndGlyphs">CCI(27)</text>
<text x="53.6" y="336" fill="#000" font-size="12.6" textLength="49" lengthAdjust="spacingAndGlyphs">-62.7148</text>
<text x="2" y="442" fill="#000" font-size="12.6" textLength="62.5" lengthAdjust="spacingAndGlyphs">7 Apr 2025</text>
<text x="97.7" y="442" fill="#000" font-size="12.6" textLength="65.5" lengthAdjust="spacingAndGlyphs">9 Apr 01:00</text>
<text x="194.3" y="442" fill="#000" font-size="12.6" textLength="72.5" lengthAdjust="spacingAndGlyphs">11 Apr 01:00</text>
<text x="290.3" y="442" fill="#000" font-size="12.6" textLength="72.5" lengthAdjust="spacingAndGlyphs">15 Apr 01:00</text>
<text x="386.3" y="442" fill="#000" font-size="12.6" textLength="72.5" lengthAdjust="spacingAndGlyphs">17 Apr 01:00</text>
<text x="482.3" y="442" fill="#000" font-size="12.6" textLength="72.5" lengthAdjust="spacingAndGlyphs">22 Apr 01:00</text>
</svg>
</body></html>
